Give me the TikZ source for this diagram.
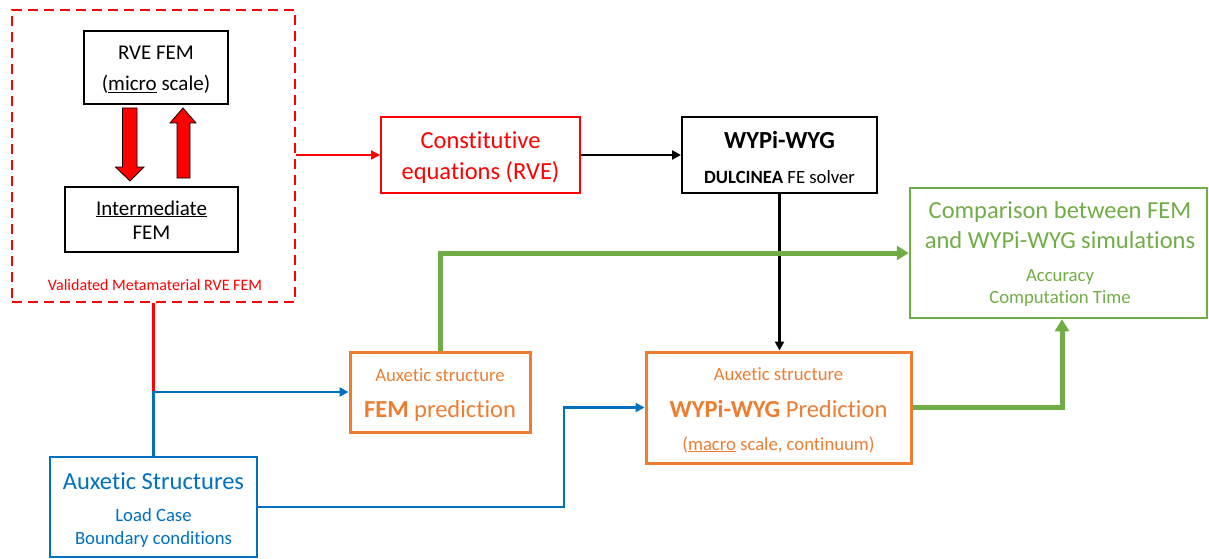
\documentclass[tikz,border=0pt]{standalone}
\usepackage{fontspec}
\setmainfont[Ligatures={NoCommon}]{Carlito}
\usetikzlibrary{arrows.meta,calc}
\definecolor{cred}{HTML}{FF0000}
\definecolor{corange}{HTML}{ED7D31}
\definecolor{cblue}{HTML}{0070C0}
\definecolor{cgreen}{HTML}{70AD47}
\newcommand{\fbig}{\fontsize{24.5}{29}\selectfont}
\newcommand{\fmid}{\fontsize{21}{24}\selectfont}
\newcommand{\fsmall}{\fontsize{18.7}{22}\selectfont}
\newcommand{\ftiny}{\fontsize{16}{19}\selectfont}
\begin{document}
\begin{tikzpicture}[x=1pt,y=-1pt,
  box/.style={draw, rectangle, inner sep=0pt, line width=2pt},
  txt/.style={inner sep=0pt, anchor=base},
  conn/.style={line width=2.7pt},
  tip/.style={-{Triangle[length=9pt,width=9pt]}},
  bigtip/.style={-{Triangle[length=12pt,width=14pt]}},
  blockarrow/.style={draw=black, line width=0.8pt, fill=cred}]
\useasboundingbox (0,0) rectangle (1209,559);

% boxes
\node[box, draw=cred, line width=2.5pt, dash pattern=on 10pt off 6pt, minimum width=283pt, minimum height=292pt] (dashed) at (153.5,156) {};
\node[box, minimum width=144pt, minimum height=73pt] (rve) at (156,67.5) {};
\node[box, minimum width=173pt, minimum height=65pt] (inter) at (151.5,219.5) {};
\node[box, draw=cred, minimum width=199pt, minimum height=76pt] (const) at (480.5,155) {};
\node[box, minimum width=195pt, minimum height=76pt] (wypi) at (779.5,155) {};
\node[box, draw=cgreen, line width=2.5pt, minimum width=297pt, minimum height=130pt] (comp) at (1058.5,253) {};
\node[box, draw=corange, line width=3pt, minimum width=180pt, minimum height=80pt] (femp) at (440,392) {};
\node[box, draw=corange, line width=3pt, minimum width=265pt, minimum height=111pt] (wpred) at (778.5,407.5) {};
\node[box, draw=cblue, line width=2.5pt, minimum width=207pt, minimum height=100pt] (aux) at (153.5,507) {};

% texts
\node[txt] (t1) at (156,59.5) {\fmid RVE FEM};
\node[txt] (t2) at (156,91) {\fmid (\underline{micro} scale)};
\node[txt] (t3) at (151.5,215) {\fmid \underline{Intermediate}};
\node[txt] (t4) at (151.5,239) {\fmid FEM};
\node[txt, text=cred] (t5) at (155,290) {\ftiny Validated Metamaterial RVE FEM};
\node[txt, text=cred] (t6) at (480.5,148) {\fbig Constitutive};
\node[txt, text=cred] (t7) at (480.5,179) {\fbig equations (RVE)};
\node[txt] (t8) at (779.5,148) {\fbig\bfseries WYPi-WYG};
\node[txt] (t9) at (779.5,183) {\fsmall\textbf{DULCINEA} FE solver};
\node[txt, text=cgreen] (t10) at (1060,218) {\fbig Comparison between FEM};
\node[txt, text=cgreen] (t11) at (1060,248) {\fbig and WYPi-WYG simulations};
\node[txt, text=cgreen] (t12) at (1060,281) {\fsmall Accuracy};
\node[txt, text=cgreen] (t13) at (1060,303) {\fsmall Computation Time};
\node[txt, text=corange] (t14) at (440,381) {\fsmall Auxetic structure};
\node[txt, text=corange] (t15) at (440,417) {\fbig\textbf{FEM} prediction};
\node[txt, text=corange] (t16) at (778.5,380) {\fsmall Auxetic structure};
\node[txt, text=corange] (t17) at (778.5,417) {\fbig\textbf{WYPi-WYG} Prediction};
\node[txt, text=corange] (t18) at (778.5,450) {\fsmall(\underline{macro} scale, continuum)};
\node[txt, text=cblue] (t19) at (153.5,489) {\fbig Auxetic Structures};
\node[txt, text=cblue] (t20) at (153.5,521) {\fsmall Load Case};
\node[txt, text=cblue] (t21) at (153.5,544) {\fsmall Boundary conditions};

% block arrows between RVE and Intermediate
\draw[blockarrow] (122.5,108) -- (137,108) -- (137,167) -- (144,167) -- (130,181) -- (115.5,167) -- (122.5,167) -- cycle;
\draw[blockarrow] (177,178) -- (190,178) -- (190,123) -- (196,123) -- (183,108) -- (170,123) -- (177,123) -- cycle;

% connectors
\coordinate (j) at (153.5,392);
\coordinate (b1) at (564,507);
\coordinate (b2) at (564,407.5);
\coordinate (g1) at (1062,407.5);
\draw[conn, cred, tip] (dashed.east |- const.west) -- (const.west);
\draw[conn, black, tip] (const.east) -- (wypi.west);
\draw[conn, black, tip] (wypi.south) -- (wypi.south |- wpred.north);
\draw[conn, cred] (dashed.south) -- (j);
\draw[conn, cblue, tip] (aux.north) -- (j) -- (femp.west);
\draw[conn, cblue, tip] (aux.east) -- (b1) -- (b2) -- (wpred.west);
\draw[line width=5pt, cgreen, bigtip] (femp.north) -- (femp.north |- comp.west) -- (comp.west);
\draw[line width=5pt, cgreen, bigtip] (wpred.east) -- (g1) -- (g1 |- comp.south);
\end{tikzpicture}
\end{document}
